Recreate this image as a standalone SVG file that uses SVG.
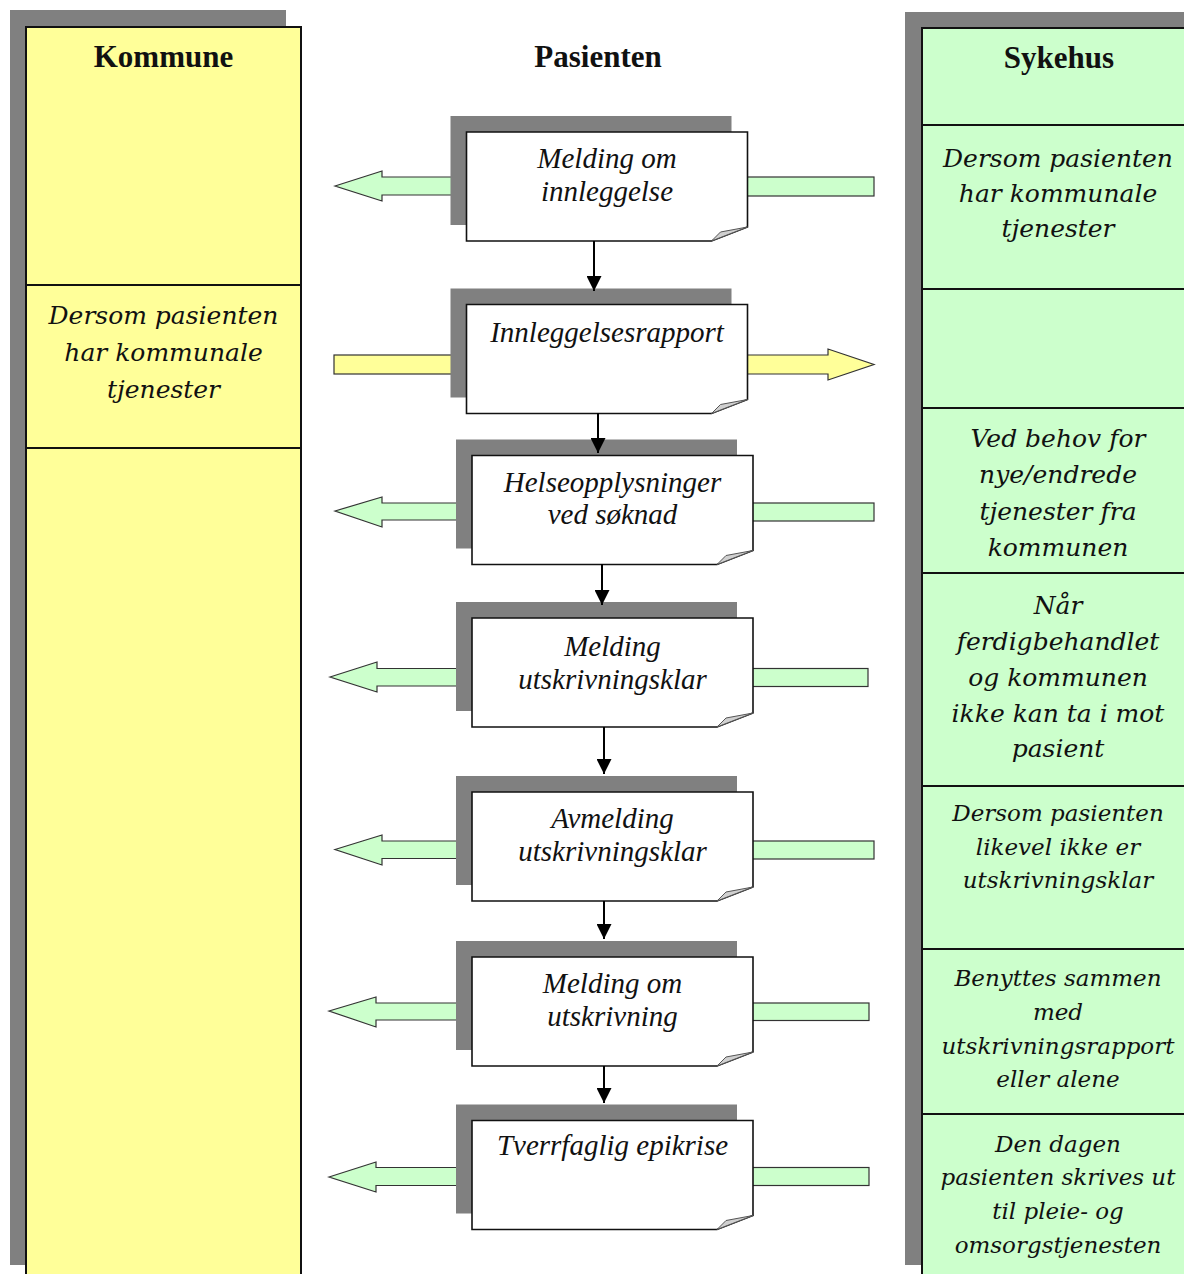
<svg xmlns="http://www.w3.org/2000/svg" xmlns:xlink="http://www.w3.org/1999/xlink" width="1184" height="1274" viewBox="0 0 1184 1274">
  <style>
    .shadow { fill: #808080; }
    .lane-k { fill: #FFFF99; stroke: #111; stroke-width: 2; }
    .lane-s { fill: #CCFFCC; stroke: #111; stroke-width: 2; }
    .divider { stroke: #111; stroke-width: 2; fill: none; }
    .head { font-family: "Liberation Serif", "Times New Roman", serif; font-weight: bold; font-size: 31px; fill: #111; text-anchor: middle; }
    .doc-label { font-family: "Liberation Serif", "Times New Roman", serif; font-style: italic; font-size: 29px; fill: #111; text-anchor: middle; }
    .note { font-family: "DejaVu Serif", "Liberation Serif", serif; font-style: italic; font-size: 25px; fill: #111; text-anchor: middle; }
    .note-sm { font-size: 23px; }
    .doc { fill: #FFFFFF; stroke: #111; stroke-width: 1.6; }
    .fold { fill: #D0D0D0; stroke: #555; stroke-width: 1; }
    .flow-g { fill: #CCFFCC; stroke: #333; stroke-width: 1.2; }
    .flow-y { fill: #FFFF99; stroke: #333; stroke-width: 1.2; }
    .link { stroke: #000; stroke-width: 2; fill: none; marker-end: url(#tip); }
  </style>
  <defs>
    <marker id="tip" markerWidth="16" markerHeight="15" refX="16" refY="8" orient="auto" markerUnits="userSpaceOnUse" viewBox="0 0 16 16">
      <path d="M0,0 L16,8 L0,16 Z" fill="#000"/>
    </marker>
    <!-- document sheet with drop shadow and folded corner, origin at sheet top-left -->
    <g id="sheet">
      <rect class="shadow" x="-16" y="-16" width="281" height="109"/>
      <path class="doc" d="M0,0 H281 V95 L245,109 H0 Z"/>
      <path class="fold" d="M245,109 L254,100 L281,95 Z"/>
    </g>
  </defs>

  <!-- Kommune lane -->
  <g id="lane-kommune">
    <rect class="shadow" x="10" y="10" width="276" height="1255"/>
    <rect class="lane-k" x="26" y="27" width="275" height="1260"/>
    <line class="divider" x1="26" y1="285" x2="301" y2="285"/>
    <line class="divider" x1="26" y1="448" x2="301" y2="448"/>
    <text class="head" x="163.5" y="67">Kommune</text>
    <text class="note" x="163.5" y="324">Dersom pasienten</text>
    <text class="note" x="163.5" y="361">har kommunale</text>
    <text class="note" x="163.5" y="398">tjenester</text>
  </g>

  <!-- Pasienten header -->
  <g id="lane-pasienten">
    <text class="head" x="598" y="67">Pasienten</text>
  </g>

  <!-- Sykehus lane -->
  <g id="lane-sykehus">
    <rect class="shadow" x="905" y="12" width="300" height="1253"/>
    <rect class="lane-s" x="922" y="28" width="280" height="1260"/>
    <line class="divider" x1="922" y1="125" x2="1190" y2="125"/>
    <line class="divider" x1="922" y1="289" x2="1190" y2="289"/>
    <line class="divider" x1="922" y1="408" x2="1190" y2="408"/>
    <line class="divider" x1="922" y1="573" x2="1190" y2="573" stroke-width="2.5"/>
    <line class="divider" x1="922" y1="786" x2="1190" y2="786"/>
    <line class="divider" x1="922" y1="949" x2="1190" y2="949" stroke-width="2.5"/>
    <line class="divider" x1="922" y1="1114" x2="1190" y2="1114" stroke-width="2.5"/>
    <text class="head" x="1059" y="68">Sykehus</text>

    <g id="note-s1">
      <text class="note" x="1058" y="167">Dersom pasienten</text>
      <text class="note" x="1058" y="202">har kommunale</text>
      <text class="note" x="1058" y="237">tjenester</text>
    </g>
    <g id="note-s2">
      <text class="note" x="1058" y="447">Ved behov for</text>
      <text class="note" x="1058" y="483">nye/endrede</text>
      <text class="note" x="1058" y="520">tjenester fra</text>
      <text class="note" x="1058" y="556">kommunen</text>
    </g>
    <g id="note-s3">
      <text class="note" x="1058" y="614">Når</text>
      <text class="note" x="1058" y="650">ferdigbehandlet</text>
      <text class="note" x="1058" y="686">og kommunen</text>
      <text class="note" x="1058" y="722">ikke kan ta i mot</text>
      <text class="note" x="1058" y="757">pasient</text>
    </g>
    <g id="note-s4">
      <text class="note note-sm" x="1058" y="821">Dersom pasienten</text>
      <text class="note note-sm" x="1058" y="855">likevel ikke er</text>
      <text class="note note-sm" x="1058" y="888">utskrivningsklar</text>
    </g>
    <g id="note-s5">
      <text class="note note-sm" x="1058" y="986">Benyttes sammen</text>
      <text class="note note-sm" x="1058" y="1020">med</text>
      <text class="note note-sm" x="1058" y="1054">utskrivningsrapport</text>
      <text class="note note-sm" x="1058" y="1087">eller alene</text>
    </g>
    <g id="note-s6">
      <text class="note note-sm" x="1058" y="1152">Den dagen</text>
      <text class="note note-sm" x="1058" y="1185">pasienten skrives ut</text>
      <text class="note note-sm" x="1058" y="1219">til pleie- og</text>
      <text class="note note-sm" x="1058" y="1253">omsorgstjenesten</text>
    </g>
  </g>

  <!-- message flows between the lanes (run behind the documents) -->
  <g id="flows">
    <path class="flow-g" d="M335,186 L382,171 V177 H460 V195 H382 V201 Z"/>
    <rect class="flow-g" x="740" y="177" width="134" height="19"/>

    <rect class="flow-y" x="334" y="355" width="126" height="19"/>
    <path class="flow-y" d="M740,355 H828 V349 L874,364.5 L828,380 V374 H740 Z"/>

    <path class="flow-g" d="M335,511 L382,497 V503 H465 V520 H382 V527 Z"/>
    <rect class="flow-g" x="745" y="503" width="129" height="18"/>

    <path class="flow-g" d="M330,677 L377,662 V668.5 H465 V686 H377 V692 Z"/>
    <rect class="flow-g" x="745" y="668.5" width="123" height="18"/>

    <path class="flow-g" d="M335,849.5 L382,835 V841 H465 V858.5 H382 V865 Z"/>
    <rect class="flow-g" x="745" y="841" width="129" height="18"/>

    <path class="flow-g" d="M329,1011 L376,997 V1003 H465 V1020 H376 V1027 Z"/>
    <rect class="flow-g" x="745" y="1003" width="124" height="17.5"/>

    <path class="flow-g" d="M329,1177 L376,1162 V1167.5 H465 V1185.5 H376 V1192 Z"/>
    <rect class="flow-g" x="745" y="1167.5" width="124" height="18"/>
  </g>

  <!-- documents -->
  <g id="doc-melding-innleggelse">
    <use xlink:href="#sheet" x="466.5" y="132"/>
    <text class="doc-label" x="607" y="168">Melding om</text>
    <text class="doc-label" x="607" y="201">innleggelse</text>
  </g>
  <g id="doc-innleggelsesrapport">
    <use xlink:href="#sheet" x="466.5" y="304.5"/>
    <text class="doc-label" x="607" y="342">Innleggelsesrapport</text>
  </g>
  <g id="doc-helseopplysninger">
    <use xlink:href="#sheet" x="472" y="455.5"/>
    <text class="doc-label" x="612.5" y="492">Helseopplysninger</text>
    <text class="doc-label" x="612.5" y="524">ved søknad</text>
  </g>
  <g id="doc-melding-utskrivningsklar">
    <use xlink:href="#sheet" x="472" y="618"/>
    <text class="doc-label" x="612.5" y="656">Melding</text>
    <text class="doc-label" x="612.5" y="689">utskrivningsklar</text>
  </g>
  <g id="doc-avmelding">
    <use xlink:href="#sheet" x="472" y="792"/>
    <text class="doc-label" x="612.5" y="828">Avmelding</text>
    <text class="doc-label" x="612.5" y="861">utskrivningsklar</text>
  </g>
  <g id="doc-melding-utskrivning">
    <use xlink:href="#sheet" x="472" y="957"/>
    <text class="doc-label" x="612.5" y="993">Melding om</text>
    <text class="doc-label" x="612.5" y="1026">utskrivning</text>
  </g>
  <g id="doc-epikrise">
    <use xlink:href="#sheet" x="472" y="1120.5"/>
    <text class="doc-label" x="612.5" y="1155">Tverrfaglig epikrise</text>
  </g>

  <!-- sequence connectors -->
  <g id="connectors">
    <line class="link" x1="594" y1="241" x2="594" y2="291"/>
    <line class="link" x1="598" y1="413" x2="598" y2="453"/>
    <line class="link" x1="602" y1="564" x2="602" y2="605"/>
    <line class="link" x1="604" y1="727" x2="604" y2="774"/>
    <line class="link" x1="604" y1="901" x2="604" y2="939"/>
    <line class="link" x1="604" y1="1066" x2="604" y2="1103"/>
  </g>
</svg>
